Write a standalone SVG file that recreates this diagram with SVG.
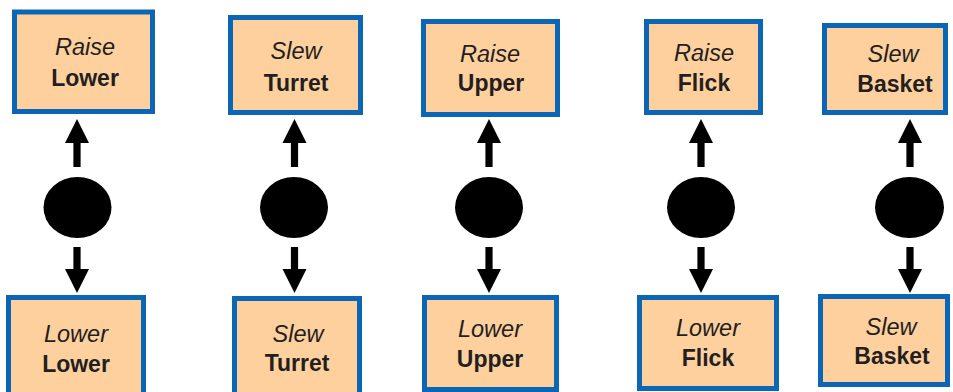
<svg xmlns="http://www.w3.org/2000/svg" xmlns:xlink="http://www.w3.org/1999/xlink" width="953" height="392" viewBox="0 0 953 392">
  <style>
    .box { fill: #FDD09E; stroke: #0B67B5; stroke-width: 5; }
    .verb { font-family: "Liberation Sans", Arial, sans-serif; font-style: italic; font-size: 23.5px; fill: #231F20; text-anchor: middle; }
    .part { font-family: "Liberation Sans", Arial, sans-serif; font-weight: bold; font-size: 23px; fill: #231F20; text-anchor: middle; }
    .dot { fill: #000; }
    .arrow { fill: #000; }
  </style>
  <defs>
    <path id="arrow-up" d="M-3.6,167V143H-12L0,119L12,143H3.6V167Z"/>
    <path id="arrow-down" d="M-3.6,247V269H-12L0,293L12,269H3.6V247Z"/>
  </defs>

  <rect width="953" height="392" fill="#FFFFFF"/>

  <!-- upper row -->
  <g id="raise-lower">
    <rect class="box" x="14.5" y="12" width="138" height="99.5"/>
    <text class="verb" x="85" y="55" font-size="22.5">Raise</text>
    <text class="part" x="85" y="86" font-size="21.5">Lower</text>
  </g>
  <g id="slew-turret-top">
    <rect class="box" x="230.5" y="17.5" width="130" height="95"/>
    <text class="verb" x="296" y="59">Slew</text>
    <text class="part" x="296" y="91">Turret</text>
  </g>
  <g id="raise-upper">
    <rect class="box" x="423.5" y="21.5" width="134" height="93"/>
    <text class="verb" x="490" y="62">Raise</text>
    <text class="part" x="491" y="91">Upper</text>
  </g>
  <g id="raise-flick">
    <rect class="box" x="646.5" y="21.5" width="114" height="91"/>
    <text class="verb" x="704" y="61">Raise</text>
    <text class="part" x="704" y="91">Flick</text>
  </g>
  <g id="slew-basket-top">
    <rect class="box" x="824.5" y="25.5" width="121" height="87"/>
    <text class="verb" x="893" y="62">Slew</text>
    <text class="part" x="895" y="92">Basket</text>
  </g>

  <!-- control sticks -->
  <g id="stick-1"><ellipse class="dot" cx="77.5" cy="207.5" rx="34" ry="30.5"/></g>
  <g id="stick-2"><ellipse class="dot" cx="294" cy="207.5" rx="34" ry="30.5"/></g>
  <g id="stick-3"><ellipse class="dot" cx="489" cy="207.5" rx="34" ry="30.5"/></g>
  <g id="stick-4"><ellipse class="dot" cx="701" cy="207.5" rx="34" ry="30.5"/></g>
  <g id="stick-5"><ellipse class="dot" cx="909.5" cy="207.5" rx="34.5" ry="30.5"/></g>

  <!-- lower row -->
  <g id="lower-lower">
    <rect class="box" x="8.5" y="297.5" width="135" height="100"/>
    <text class="verb" x="76" y="342" font-size="25">Lower</text>
    <text class="part" x="76" y="372">Lower</text>
  </g>
  <g id="slew-turret-bottom">
    <rect class="box" x="234.5" y="298.5" width="125" height="100"/>
    <text class="verb" x="298" y="342">Slew</text>
    <text class="part" x="297" y="371">Turret</text>
  </g>
  <g id="lower-upper">
    <rect class="box" x="424.5" y="297.5" width="132" height="92"/>
    <text class="verb" x="490" y="337">Lower</text>
    <text class="part" x="490" y="367">Upper</text>
  </g>
  <g id="lower-flick">
    <rect class="box" x="639.5" y="297.5" width="137" height="91"/>
    <text class="verb" x="708" y="336">Lower</text>
    <text class="part" x="708" y="366">Flick</text>
  </g>
  <g id="slew-basket-bottom">
    <rect class="box" x="820.5" y="296.5" width="127" height="88"/>
    <text class="verb" x="891" y="335">Slew</text>
    <text class="part" x="892" y="364">Basket</text>
  </g>

  <!-- arrows from each stick to its two actions -->
  <g id="connectors" class="arrow">
    <use xlink:href="#arrow-up" x="77"/>
    <use xlink:href="#arrow-down" x="77"/>
    <use xlink:href="#arrow-up" x="294.5"/>
    <use xlink:href="#arrow-down" x="294.5"/>
    <use xlink:href="#arrow-up" x="489"/>
    <use xlink:href="#arrow-down" x="489"/>
    <use xlink:href="#arrow-up" x="701"/>
    <use xlink:href="#arrow-down" x="701"/>
    <use xlink:href="#arrow-up" x="910"/>
    <use xlink:href="#arrow-down" x="910"/>
  </g>
</svg>
